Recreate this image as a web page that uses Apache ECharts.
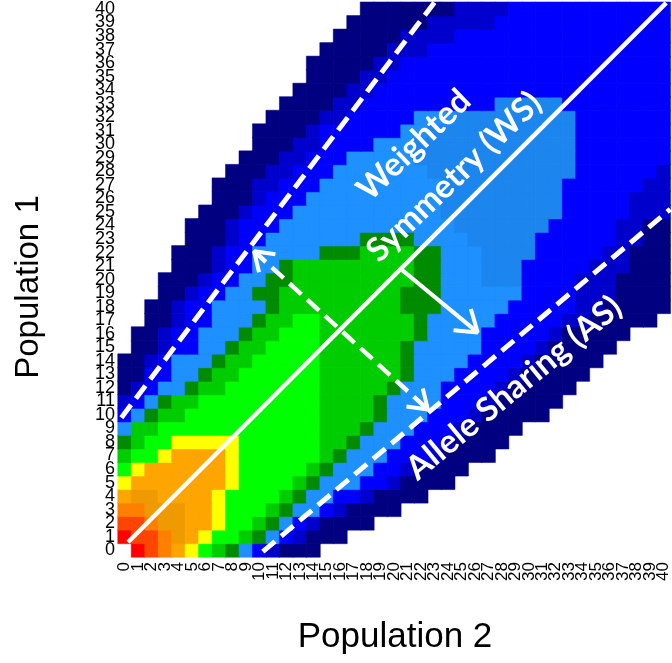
<!DOCTYPE html>
<html><head><meta charset="utf-8">
<script src="https://cdn.jsdelivr.net/npm/echarts@6/dist/echarts.min.js"></script>
<style>html,body{margin:0;padding:0;background:#fff}#c{width:672px;height:663px}</style>
</head><body><div id="c"></div>
<script>
// tick labels
const xLabels = ['0','1','2','3','4','5','6','7','8','9','10','11','12','13','14','15','16','17','18','19','20','21','22','23','24','25','26','27','28','29','30','31','32','33','34','35','36','37','38','39','40'];
const yLabels = ['0','1','2','3','4','5','6','7','8','9','10','11','12','13','14','15','16','17','18','19','20','21','22','23','24','25','26','27','28','29','30','31','32','33','34','35','36','37','38','39','40'];
// colour levels (code letters used in the rows below)
const levelCodes  = ['N','M','B','d','D','k','g','h','G','Y','O','o','A','E','R'];
const levelColors = ['#000080','#0000CD','#0000FF','#1C86EE','#1E90FF','#008B00','#00CD00','#00EE00','#00FF00','#FFFF00','#FFA500','#EE9A00','#FF7F00','#FF4500','#FF0000'];
// one entry per row (Population 1 = 0..40): "firstColumn:" then runs of level code + run length
const rowRuns = [
 "1:R1E1A1O1Y1G1g1k1D1B1M1N3",
 "0:R1E2A1o1O1Y1G2g1k1D1B1M1N3",
 "0:E2A1o2O2Y1G2g1k1D1B1M1N4",
 "0:A2o3O2Y1G3g1k1D2B1M1N4",
 "0:O1o2O4Y1G4g1k1D2B2M1N4",
 "0:Y1O7Y1G4g1k1D3B2M1N4",
 "0:G1Y1O6Y1G5g1k1D3B2M1N4",
 "0:g1G2Y1O4Y1G6g1k1D3B3M1N4",
 "0:k1g1G2Y5G6g2k1D3B3M1N4",
 "0:D1g2G12g3k1D3B3M1N4",
 "0:B1D1k1g2G10g4k1D3B3M1N5",
 "0:M1B1D1k1g2G9g4k1D4B3M1N5",
 "0:N1M1B1D2k1g2G7g5k1D3B4M1N5",
 "0:N2B2D2k1g2G6g6k1D3B4M1N5",
 "0:N2M1B1D3k1g2G5g6k1D4B4M1N5",
 "1:N2M1B2D2k1g2G4g6k1D5B4M1N5",
 "1:N2M1B2D3k1g2G3g7k1D4B5M1N5",
 "2:N2M1B2D3k1g2G2g7k1D5B5M2N5",
 "2:N2M1B2D4k1g9k3D5B5M2N5",
 "3:N2M1B2D2k2g9k3D6B4M3N4",
 "3:N3M1B2D2k2g9k2D3d3B4M3N4",
 "4:N3M1B2D2k1g9k2D3d3B5M3N3",
 "4:N3M1B2D5k3g4k2D3d4B5M2N3",
 "5:N3M1B2D7k4D4d5B6M2N2",
 "5:N3M1B3D13d7B5M2N2",
 "6:N3M1B3D11d9B5M3",
 "7:N3M1B3D10d9B5M3",
 "7:N3M2B3D9d9B6M2",
 "8:N3M2B3D7d11B6M1",
 "9:N3M2B3D5d12B7",
 "10:N3M2B4D3d12B7",
 "10:N4M1B6D2d11B7",
 "11:N4M2B5D3d9B7",
 "12:N4M2B10d5B8",
 "13:N4M2B22",
 "14:N4M2B21",
 "14:N5M2B20",
 "15:N5M3B18",
 "16:N5M4B16",
 "17:N6M5B13",
 "18:N7M4B12"
];
// annotation guides, in data units of the two axes
const diagonalLine = [[0.24,0.59],[40.2,40.45]];
const upperDashed  = [[-0.25,9.8],[23.0,40.5]];
const lowerDashed  = [[10.25,-0.1],[40.5,25.2]];
const solidArrow   = [[20.6,20.7],[26.2,16.1]];
const dashedArrow  = [[9.6,22.1],[22.5,10.4]];

const cells = [];
rowRuns.forEach((s, j) => {
  const parts = s.split(':');
  let col = +parts[0];
  const re = /([A-Za-z])(\d+)/g; let m;
  while ((m = re.exec(parts[1]))) {
    const lvl = levelCodes.indexOf(m[1]);
    for (let k = 0; k < +m[2]; k++) {
      if (col <= 40) cells.push({value:[col, j, lvl], itemStyle:{color:levelColors[lvl], borderColor:levelColors[lvl], borderWidth:0.5}});
      col++;
    }
  }
});

function chevron(tip, from, len, ang) {
  const dx = from[0]-tip[0], dy = from[1]-tip[1];
  const n = Math.hypot(dx, dy), ux = dx/n, uy = dy/n;
  const c = Math.cos(ang), s = Math.sin(ang);
  const a = [tip[0] + len*(ux*c - uy*s), tip[1] + len*(ux*s + uy*c)];
  const b = [tip[0] + len*(ux*c + uy*s), tip[1] + len*(-ux*s + uy*c)];
  return [a, tip, b];
}
const white = '#ffffff';
function lineSeries(data, width, dashed) {
  return {type:'line', xAxisIndex:1, yAxisIndex:1, data, symbol:'none', silent:true, animation:false,
    lineStyle:{color:white, width, type: dashed ? [16,8] : 'solid', cap:'butt'}, z:5};
}

const chart = echarts.init(document.getElementById('c'), null, {renderer:'canvas'});
const axisFont = '"Liberation Sans", Arial, sans-serif';
const noteFont = 'bold 33px Lato, "Open Sans", sans-serif';
chart.setOption({
  animation:false,
  backgroundColor:'#ffffff',
  grid:{left:118, top:2, width:554, height:555, containLabel:false},
  xAxis:[
    {type:'category', data:xLabels, axisLine:{show:false}, axisTick:{show:false}, splitLine:{show:false},
     axisLabel:{rotate:90, interval:0, fontSize:17, color:'#000', fontFamily:axisFont, margin:5}},
    {type:'value', min:-0.5, max:40.5, show:false}
  ],
  yAxis:[
    {type:'category', data:yLabels, axisLine:{show:false}, axisTick:{show:false}, splitLine:{show:false},
     axisLabel:{interval:0, fontSize:18, color:'#000', fontFamily:axisFont, margin:3}},
    {type:'value', min:-0.5, max:40.5, show:false}
  ],
  series:[
    {type:'heatmap', xAxisIndex:0, yAxisIndex:0, data:cells, silent:true, progressive:0, emphasis:{disabled:true}},
    lineSeries(diagonalLine, 4.5, false),
    lineSeries(upperDashed, 5, true),
    lineSeries(lowerDashed, 5, true),
    lineSeries(solidArrow, 4, false),
    lineSeries(chevron(solidArrow[1], solidArrow[0], 1.8, 0.6), 4, false),
    lineSeries(dashedArrow, 4.5, true),
    lineSeries(chevron(dashedArrow[0], dashedArrow[1], 1.6, 0.6), 4, false),
    lineSeries(chevron(dashedArrow[1], dashedArrow[0], 1.6, 0.6), 4, false)
  ],
  graphic:[
    {type:'text', x:414, y:145, rotation:44*Math.PI/180, z:10,
     style:{text:'Weighted', fill:white, font:noteFont, align:'center', verticalAlign:'middle'}},
    {type:'text', x:454, y:177, rotation:44*Math.PI/180, z:10,
     style:{text:'Symmetry (WS)', fill:white, font:noteFont, align:'center', verticalAlign:'middle'}},
    {type:'text', x:514, y:388, rotation:39.5*Math.PI/180, z:10,
     style:{text:'Allele Sharing (AS)', fill:white, font:noteFont, align:'center', verticalAlign:'middle'}},
    {type:'text', x:395, y:637, z:10,
     style:{text:'Population 2', fill:'#000', font:'35px "Liberation Sans", Arial, sans-serif', align:'center', verticalAlign:'middle'}},
    {type:'text', x:29, y:287, rotation:Math.PI/2, z:10,
     style:{text:'Population 1', fill:'#000', font:'33px "Liberation Sans", Arial, sans-serif', align:'center', verticalAlign:'middle'}}
  ]
});
</script></body></html>
